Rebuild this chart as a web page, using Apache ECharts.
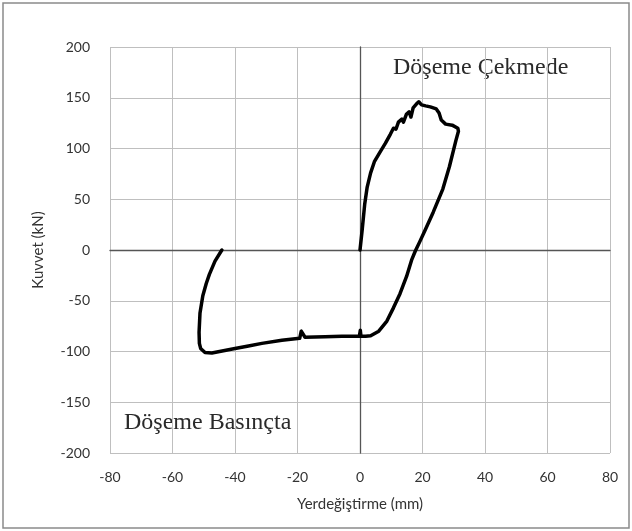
<!DOCTYPE html>
<html><head><meta charset="utf-8">
<script src="https://cdn.jsdelivr.net/npm/echarts@6/dist/echarts.min.js"></script>
<style>html,body{margin:0;padding:0;background:#fff}#c{width:632px;height:531px}</style>
</head><body><div id="c"></div>
<script>
// Displacement (mm) and force (kN) along the loading path
const dispMM = [0,0.7,1.5,2.3,3.4,4.6,6.5,8.1,9.7,10.7,11.5,12.3,13.4,13.9,14.9,15.7,16.3,17,18.1,18.8,19.7,21,22.5,24.4,25.3,26,27.4,29.5,31.3,31.5,
  30.7,28.6,26.5,23.4,20.6,19.1,17.7,16.5,14.9,12.8,10.7,8.6,6.0,3.4,1.8,0.3,0.1,-0.2,-5.8,-11.2,-17.6,-18.8,-19.3,-25,-31.4,-35.7,-40,-43.3,-47.4,-49.6,-51,-51.4,-51.5,-51.2,-50.3,-49.2,-48.2,-46.4,-44.2];
const forceKN = [0,20,45,62,76,87,97,105,114,120,119,126,129,126,134,136,131,140,144,146,143,142,141,139,135,128,124,123,120,117,
  108,82,60,37,18,8,-1,-10,-26,-43,-57,-70,-80,-84.5,-85,-85,-79,-85,-85,-85.5,-86,-80,-87,-89,-92,-94.5,-97,-99,-101.5,-101,-97,-92,-81,-62,-45,-33,-24,-11,0];
const xTicks = [-80,-60,-40,-20,0,20,40,60,80];
const yTicks = [-200,-150,-100,-50,0,50,100,150,200];
const xTitle = 'Yerdeğiştirme (mm)';
const yTitle = 'Kuvvet (kN)';
const noteTension = 'Döşeme Çekmede';
const noteCompression = 'Döşeme Basınçta';

const chart = echarts.init(document.getElementById('c'), null, {renderer:'canvas'});
const lbl = {color:'#333', fontFamily:'Lato', fontSize:14};
chart.setOption({
  backgroundColor:'#fff',
  animation:false,
  grid:{left:110, right:22, top:47, bottom:78, containLabel:false},
  xAxis:{type:'value', min:xTicks[0], max:xTicks[xTicks.length-1], interval:20,
    name:xTitle, nameLocation:'middle', nameGap:44,
    nameTextStyle:{color:'#333', fontFamily:'Lato', fontSize:15},
    axisLine:{show:true, onZero:true, lineStyle:{color:'#555', width:1.3}},
    axisTick:{show:false},
    axisLabel:{...lbl, margin:17},
    splitLine:{show:true, lineStyle:{color:'#bfbfbf', width:1}}},
  yAxis:{type:'value', min:yTicks[0], max:yTicks[yTicks.length-1], interval:50,
    name:yTitle, nameLocation:'middle', nameGap:64, nameRotate:90,
    nameTextStyle:{color:'#333', fontFamily:'Lato', fontSize:15},
    axisLine:{show:true, onZero:true, lineStyle:{color:'#555', width:1.3}},
    axisTick:{show:false},
    axisLabel:{...lbl, margin:20},
    splitLine:{show:true, lineStyle:{color:'#bfbfbf', width:1}}},
  series:[{type:'line', data:dispMM.map((x,i)=>[x,forceKN[i]]), showSymbol:false, symbol:'none',
    smooth:false, lineStyle:{color:'#000', width:3.5, join:'round', cap:'round'}}],
  graphic:[
    {type:'rect', shape:{x:3, y:3, width:626, height:525}, style:{fill:null, stroke:'#8a8a8a', lineWidth:1.5}, silent:true},
    {type:'text', left:393, top:56, style:{text:noteTension, fill:'#2a2a2a', font:'24px "Liberation Serif"'}},
    {type:'text', left:124, top:411, style:{text:noteCompression, fill:'#2a2a2a', font:'24px "Liberation Serif"'}}
  ]
});
</script></body></html>
